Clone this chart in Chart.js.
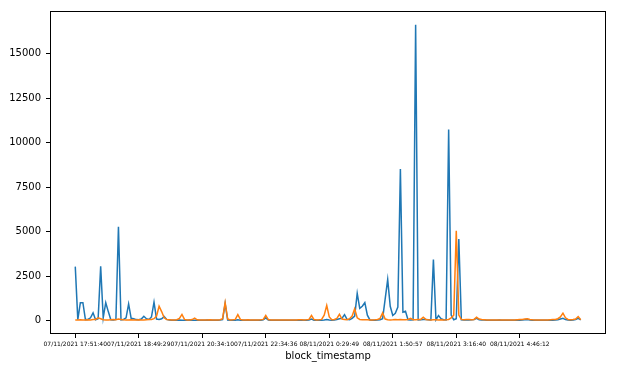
<!DOCTYPE html>
<html>
<head>
<meta charset="utf-8">
<script src="https://cdn.jsdelivr.net/npm/chart.js@4/dist/chart.umd.min.js"></script>
<style>
  html, body { margin: 0; padding: 0; background: #fff; }
</style>
</head>
<body>
<canvas id="chart" width="630" height="371"></canvas>
<script>
// tick positions (point index) and their timestamp labels
const tickIndex = [0, 25, 50, 75, 100, 125, 150, 175];
const tickLabels = [
    "07/11/2021 17:51:40", "07/11/2021 18:49:29", "07/11/2021 20:34:10",
    "07/11/2021 22:34:36", "08/11/2021 0:29:49", "08/11/2021 1:50:57",
    "08/11/2021 3:16:40", "08/11/2021 4:46:12"
];

const yTicks = [0, 2500, 5000, 7500, 10000, 12500, 15000];

// first series (blue)
const seriesBlue = [
    3030, 50, 1000, 1000, 50, 60, 150, 430, 40, 100,
    3050, 150, 1000, 500, 40, 30, 60, 5270, 40, 60,
    150, 930, 120, 100, 50, 40, 80, 240, 100, 60,
    200, 1030, 80, 60, 100, 220, 60, 30, 20, 20,
    20, 30, 20, 20, 20, 30, 20, 20, 20, 20,
    20, 20, 30, 20, 20, 20, 20, 30, 50, 950,
    30, 20, 20, 20, 40, 20, 20, 20, 20, 20,
    20, 20, 20, 20, 40, 150, 30, 20, 20, 20,
    20, 20, 20, 20, 20, 20, 20, 20, 20, 30,
    20, 20, 30, 80, 20, 20, 20, 20, 30, 60,
    30, 20, 30, 60, 100, 120, 330, 60, 40, 120,
    250, 1520, 680, 800, 1000, 300, 30, 20, 20, 30,
    40, 100, 1200, 2300, 800, 280, 400, 750, 8520, 470,
    520, 40, 30, 40, 16620, 30, 40, 50, 60, 40,
    30, 3420, 40, 280, 100, 40, 30, 10740, 300, 40,
    100, 4580, 40, 30, 40, 30, 40, 60, 120, 40,
    30, 30, 20, 20, 20, 20, 20, 30, 20, 20,
    20, 20, 20, 20, 20, 20, 30, 40, 60, 30,
    20, 20, 20, 20, 20, 20, 20, 20, 20, 30,
    40, 80, 120, 50, 30, 20, 30, 60, 120, 30
];

// second series (orange)
const seriesOrange = [
    30, 30, 40, 30, 30, 40, 30, 50, 60, 150,
    100, 40, 30, 30, 40, 50, 40, 80, 60, 40,
    30, 30, 40, 30, 30, 40, 30, 30, 40, 50,
    60, 100, 250, 800, 500, 150, 50, 40, 30, 30,
    40, 120, 340, 60, 30, 30, 50, 130, 40, 30,
    30, 30, 30, 40, 30, 30, 30, 40, 100, 1000,
    80, 30, 40, 60, 330, 60, 30, 30, 40, 30,
    30, 30, 30, 40, 60, 280, 50, 30, 30, 30,
    30, 30, 30, 30, 30, 30, 30, 30, 40, 40,
    30, 40, 60, 280, 50, 30, 40, 60, 300, 840,
    200, 40, 60, 120, 350, 80, 60, 40, 100, 250,
    660, 150, 60, 40, 40, 40, 30, 30, 40, 60,
    120, 430, 80, 40, 30, 40, 60, 40, 50, 40,
    40, 60, 120, 40, 40, 50, 60, 180, 60, 40,
    30, 40, 40, 30, 40, 30, 40, 60, 150, 300,
    5040, 300, 60, 40, 50, 60, 40, 60, 180, 80,
    50, 40, 30, 30, 30, 30, 30, 30, 30, 30,
    30, 30, 30, 30, 40, 50, 60, 80, 100, 60,
    40, 30, 30, 30, 30, 30, 30, 40, 50, 60,
    100, 200, 410, 150, 60, 40, 50, 80, 220, 40
];

const toPoints = (arr) => arr.map((v, i) => ({ x: i, y: v }));

// matplotlib-like margins (5% on each side of x)
const lastIndex = seriesBlue.length - 1;
const xPad = lastIndex * 0.05;

// full box around the plot area, like matplotlib spines
const frameBox = {
    id: "frameBox",
    afterDraw(chart) {
        const { ctx, chartArea: a } = chart;
        ctx.save();
        ctx.strokeStyle = "#000";
        ctx.lineWidth = 1;
        ctx.strokeRect(a.left + 0.5, a.top + 0.5, a.right - a.left - 1, a.bottom - a.top - 1);
        ctx.restore();
    }
};

const ctx = document.getElementById("chart").getContext("2d");
new Chart(ctx, {
    type: "line",
    data: {
        datasets: [
            {
                data: toPoints(seriesBlue),
                borderColor: "#1f77b4",
                borderWidth: 1.5,
                pointRadius: 0,
                tension: 0,
                order: 1 // drawn underneath
            },
            {
                data: toPoints(seriesOrange),
                borderColor: "#ff7f0e",
                borderWidth: 1.5,
                pointRadius: 0,
                tension: 0,
                order: 0 // drawn on top, as in matplotlib
            }
        ]
    },
    options: {
        responsive: false,
        animation: false,
        devicePixelRatio: 1,
        layout: { padding: { left: 0, right: 24, top: 9, bottom: 0 } },
        plugins: {
            legend: { display: false },
            tooltip: { enabled: false }
        },
        scales: {
            x: {
                type: "linear",
                min: -xPad,
                max: lastIndex + xPad,
                afterBuildTicks: (scale) => {
                    scale.ticks = tickIndex.map((v) => ({ value: v }));
                },
                afterFit: (scale) => { scale.height = 37; },
                border: { display: false },
                grid: {
                    drawOnChartArea: false,
                    drawTicks: true,
                    tickLength: 4,
                    color: "#000"
                },
                ticks: {
                    autoSkip: false,
                    maxRotation: 0,
                    minRotation: 0,
                    padding: 3,
                    color: "#000",
                    font: { family: "DejaVu Sans", size: 6 },
                    callback: (value) => {
                        const k = tickIndex.indexOf(value);
                        return k >= 0 ? tickLabels[k] : "";
                    }
                },
                title: {
                    display: true,
                    text: "block_timestamp",
                    color: "#000",
                    font: { family: "DejaVu Sans", size: 10 },
                    padding: { top: 0, bottom: 9 }
                }
            },
            y: {
                min: -760,
                max: 17400,
                afterBuildTicks: (scale) => {
                    scale.ticks = yTicks.map((v) => ({ value: v }));
                },
                afterFit: (scale) => { scale.width = 50; },
                border: { display: false },
                grid: {
                    drawOnChartArea: false,
                    drawTicks: true,
                    tickLength: 4,
                    color: "#000"
                },
                ticks: {
                    padding: 5,
                    color: "#000",
                    font: { family: "DejaVu Sans", size: 10 },
                    callback: (value) => String(value)
                }
            }
        }
    },
    plugins: [frameBox]
});
</script>
</body>
</html>
